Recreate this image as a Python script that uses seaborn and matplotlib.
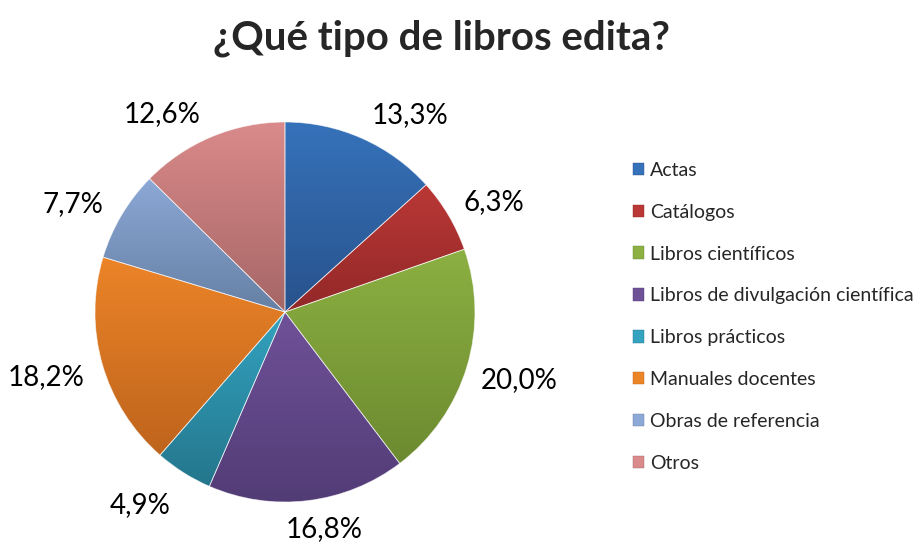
import numpy as np
import matplotlib
matplotlib.use("Agg")
import matplotlib.pyplot as plt
import seaborn as sns
from matplotlib.colors import LinearSegmentedColormap, to_rgb
from matplotlib.patches import Patch

# data
categorias = ["Actas", "Catálogos", "Libros científicos",
              "Libros de divulgación científica", "Libros prácticos",
              "Manuales docentes", "Obras de referencia", "Otros"]
porcentajes = [13.3, 6.3, 20.0, 16.8, 4.9, 18.2, 7.7, 12.6]
etiquetas = ["13,3%", "6,3%", "20,0%", "16,8%", "4,9%", "18,2%", "7,7%", "12,6%"]

# colores (claro arriba, oscuro abajo)
claros = ["#3672BA", "#BA3836", "#8CB042", "#6F5198", "#33A3C0", "#EC8428", "#8CA8D6", "#DA8A8A"]
oscuros = ["#28528C", "#922828", "#6C8A30", "#523C76", "#24768C", "#BE641C", "#6680A4", "#A66666"]
# colocacion de etiquetas tipo Excel: distancia radial y giro respecto al angulo medio
dist_etiqueta = [1.24, 1.25, 1.28, 1.145, 1.26, 1.30, 1.26, 1.24]
giro_etiqueta = [-8.0, -2.2, 1.3, 3.5, -5.0, -1.4, 3.0, 8.6]

sns.set_theme(style="white")
plt.rcParams["font.family"] = ["Lato", "DejaVu Sans"]

fig = plt.figure(figsize=(9.15, 5.44), dpi=100)
ax = fig.add_axes([0.1038, 0.0772, 0.4153, 0.6985])

paleta = sns.color_palette(claros)
wedges, _ = ax.pie(porcentajes, colors=paleta, startangle=90, counterclock=False,
                   radius=1, wedgeprops=dict(linewidth=0))

# degradado vertical en cada porcion
for w, c1, c2 in zip(wedges, claros, oscuros):
    ext = w.get_path().get_extents()
    cmap = LinearSegmentedColormap.from_list("g", [to_rgb(c2), to_rgb(c1)])
    grad = np.linspace(0, 1, 256).reshape(-1, 1)
    im = ax.imshow(grad, cmap=cmap, origin="lower", aspect="auto",
                   extent=(ext.x0, ext.x1, ext.y0, ext.y1), zorder=2)
    im.set_clip_path(w)
    w.set_facecolor("none")
    w.set_edgecolor((1, 1, 1, 0.6))
    w.set_linewidth(0.6)
    w.set_zorder(3)

# etiquetas de porcentaje
for w, txt, d, g in zip(wedges, etiquetas, dist_etiqueta, giro_etiqueta):
    mid = np.deg2rad((w.theta1 + w.theta2) / 2 + g)
    ax.text(d * np.cos(mid), d * np.sin(mid) - 0.015, txt, ha="center", va="center",
            fontsize=20, color="black")

ax.set_xlim(-1, 1)
ax.set_ylim(-1, 1)
ax.set_aspect("equal")
ax.axis("off")

fig.suptitle("¿Qué tipo de libros edita?", x=0.482, y=0.965, fontsize=29, fontweight="bold")

handles = [Patch(facecolor=c, edgecolor=c2, linewidth=0.3) for c, c2 in zip(claros, oscuros)]
fig.legend(handles, categorias, loc="upper left", bbox_to_anchor=(0.683, 0.717),
           frameon=False, fontsize=14, handlelength=0.6, handleheight=0.6,
           handletextpad=0.3, labelspacing=1.28, borderaxespad=0)

fig.savefig("out.png", dpi=100)
